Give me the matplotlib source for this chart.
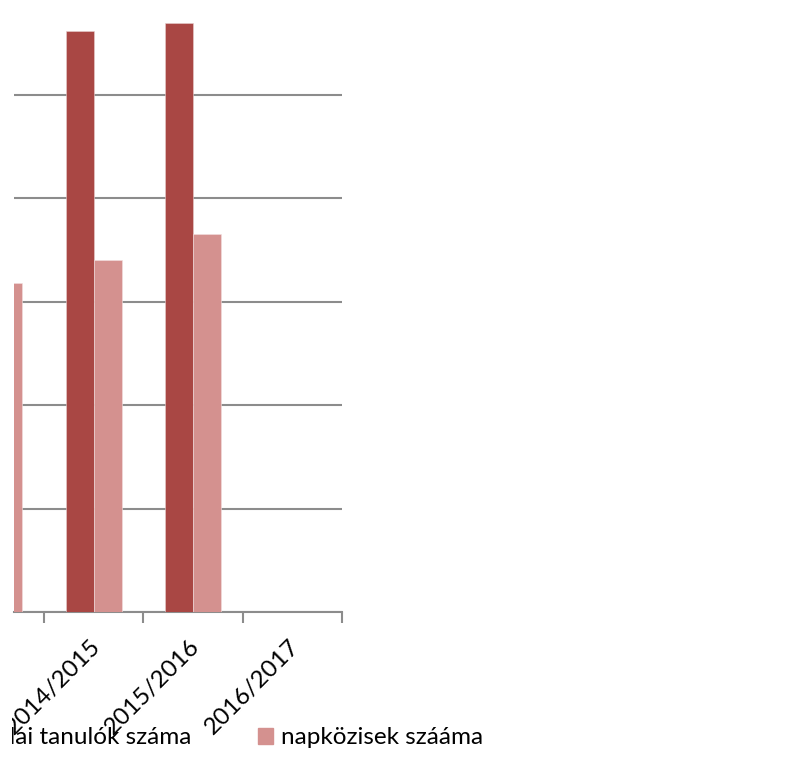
import matplotlib
matplotlib.use('Agg')
import matplotlib.pyplot as plt
import numpy as np
from matplotlib.patches import Patch, Rectangle

# adatok (a bal szélső kategória csak részben látszik)
categories = ['2013/2014', '2014/2015', '2015/2016', '2016/2017']
tanulok = [272, 281, 285, np.nan]
napkozisek = [159, 170, 183, np.nan]
series_names = ['iskolai tanulók száma', 'napközisek szááma']

dark = '#A94744'
light = '#D4918F'
grid_col = '#8C8C8C'

plt.rcParams['font.family'] = ['Lato', 'DejaVu Sans']

fig = plt.figure(figsize=(8.03, 7.77), dpi=100)
W, H = 803, 777
# tengely: x 14..342 px, y alap 612 px, rács 103.4 px-enként (50 egység)
y0, step = 612, 103.4
top = y0 - 6 * step
ax = fig.add_axes([14 / W, 1 - y0 / H, (342 - 14) / W, (y0 - top) / H])

x = np.arange(len(categories))
bw = 0.282
ax.bar(x - bw / 2, tanulok, bw, color=dark, edgecolor='#E8CFCF', linewidth=0.4, zorder=3)
ax.bar(x + bw / 2, napkozisek, bw, color=light, edgecolor='#F2E0E0', linewidth=0.4, zorder=3)

ax.set_xlim(0.5 - 30 / 99.33, 3.5)
ax.set_ylim(0, 300)
ax.set_yticks(np.arange(0, 301, 50))
ax.yaxis.grid(True, color=grid_col, linewidth=1.5)
ax.set_axisbelow(True)
ax.tick_params(axis='y', left=False, labelleft=False)

for s in ['left', 'right', 'top']:
    ax.spines[s].set_visible(False)
ax.spines['bottom'].set_color(grid_col)
ax.spines['bottom'].set_linewidth(1.5)

ax.set_xticks(np.arange(0.5, 3.6, 1.0))
ax.set_xticklabels([])
ax.tick_params(axis='x', direction='out', length=8, width=1.5, color=grid_col)

for i, lab in enumerate(categories):
    ax.text(x[i] - 0.04, -11.5, lab, rotation=45, ha='right', va='top',
            rotation_mode='anchor', fontsize=17.5, clip_on=False)

fig.legend([Patch(color=dark)], [series_names[0]], loc='center right',
           bbox_to_anchor=(191 / W, 1 - 738 / H), frameon=False,
           fontsize=17.5, borderpad=0, borderaxespad=0,
           handlelength=0.6, handleheight=0.6, handletextpad=0.33)
fig.legend([Patch(color=light)], [series_names[1]], loc='center left',
           bbox_to_anchor=(258 / W, 1 - 738 / H), frameon=False,
           fontsize=17.5, borderpad=0, borderaxespad=0,
           handlelength=0.6, handleheight=0.6, handletextpad=0.33)

# a kép bal széle le van vágva
fig.add_artist(Rectangle((0, 0), 12.5 / W, 1, transform=fig.transFigure,
                         facecolor='white', edgecolor='none', zorder=100))

fig.savefig('out.png', dpi=100)
